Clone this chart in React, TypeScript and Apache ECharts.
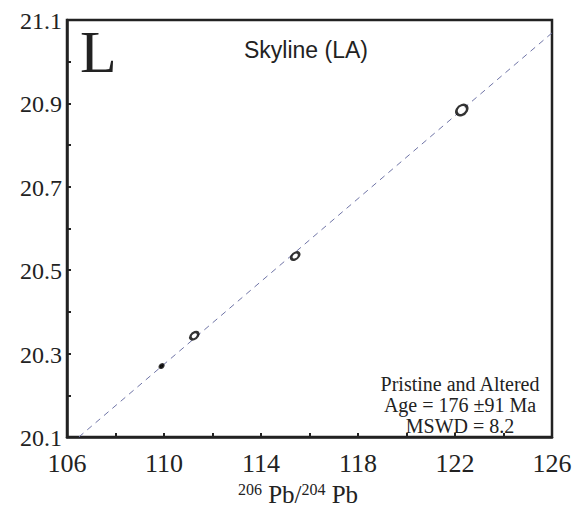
import React, { useEffect, useRef } from "react";
import * as echarts from "echarts";

// 206Pb/204Pb vs 207Pb/204Pb (ellipse centres)
const xValues = [109.9, 111.25, 115.41, 122.28];
const yValues = [20.27, 20.343, 20.534, 20.884];
// isochron reference line endpoints
const lineX = [106.49, 126];
const lineY = [20.1, 21.069];
const xTicks = [106, 110, 114, 118, 122, 126];
const yTicks = [20.1, 20.3, 20.5, 20.7, 20.9, 21.1];

// ellipse sizes [width, height] in px
const ellipseSizes: [number, number][] = [[4, 3], [9, 6], [9, 6], [12, 9]];

export default function App() {
  const ref = useRef<HTMLDivElement>(null);
  useEffect(() => {
    document.body.style.margin = "0";
    const chart = echarts.init(ref.current!, null, { renderer: "svg" });
    const serif = "Liberation Serif";
    const ink = "#222";
    chart.setOption({
      animation: false,
      backgroundColor: "#fff",
      grid: { left: 67, top: 20, right: 33, bottom: 77, show: true, borderColor: ink, borderWidth: 2.5 },
      xAxis: {
        type: "value",
        min: 106,
        max: 126,
        interval: 2,
        axisLine: { show: true, lineStyle: { color: ink, width: 2.5 } },
        axisTick: { show: true, inside: true, length: 4, lineStyle: { color: ink, width: 2 } },
        splitLine: { show: false },
        axisLabel: { show: false },
      },
      yAxis: {
        type: "value",
        min: 20.1,
        max: 21.1,
        interval: 0.1,
        axisLine: { show: true, lineStyle: { color: ink, width: 2.5 } },
        axisTick: { show: true, inside: true, length: 4, lineStyle: { color: ink, width: 2 } },
        splitLine: { show: false },
        axisLabel: { show: false },
      },
      series: [
        {
          type: "line",
          data: lineX.map((x, i) => [x, lineY[i]]),
          symbol: "none",
          lineStyle: { color: "#6f74a6", width: 1, type: [6, 5] },
          z: 1,
        },
        {
          type: "scatter",
          data: xValues.map((x, i) => ({
            value: [x, yValues[i]],
            symbolSize: ellipseSizes[i],
            itemStyle: i === 0 ? { color: "#000" } : undefined,
          })),
          symbol: "circle",
          symbolRotate: 40,
          itemStyle: { color: "#fff", borderColor: "#000", borderWidth: 2.5 },
          z: 3,
        },
      ],
    });

    const xLabelEls = xTicks.map((v) => {
      const [px, py] = chart.convertToPixel({ gridIndex: 0 }, [v, 20.1]) as number[];
      return {
        type: "text",
        x: px,
        y: py + 26,
        style: { text: String(v), font: `26px ${serif}`, fill: ink, align: "center", verticalAlign: "middle" },
      };
    });
    const yLabelEls = yTicks.map((v) => {
      const [px, py] = chart.convertToPixel({ gridIndex: 0 }, [106, v]) as number[];
      return {
        type: "text",
        x: px - 5,
        y: py + 1,
        style: { text: v.toFixed(1), font: `24px ${serif}`, fill: ink, align: "right", verticalAlign: "middle" },
      };
    });

    chart.setOption({
      graphic: [
        ...xLabelEls,
        ...yLabelEls,
        {
          type: "text",
          left: 80,
          top: 22,
          style: { text: "L", font: `60px ${serif}`, fill: ink },
        },
        {
          type: "text",
          x: 306,
          y: 50,
          style: { text: "Skyline (LA)", font: "23px Liberation Sans", fill: ink, align: "center", verticalAlign: "middle" },
        },
        {
          type: "text",
          x: 460,
          y: 384,
          style: { text: "Pristine and Altered", font: `20px ${serif}`, fill: ink, align: "center", verticalAlign: "middle" },
        },
        {
          type: "text",
          x: 460,
          y: 405,
          style: { text: "Age = 176 ±91 Ma", font: `20px ${serif}`, fill: ink, align: "center", verticalAlign: "middle" },
        },
        {
          type: "text",
          x: 460,
          y: 426,
          style: { text: "MSWD = 8.2", font: `20px ${serif}`, fill: ink, align: "center", verticalAlign: "middle" },
        },
        {
          type: "text",
          x: 298,
          y: 494,
          style: {
            text: "{s|206}{b| Pb/}{s|204}{b| Pb}",
            align: "center",
            verticalAlign: "middle",
            fill: ink,
            rich: {
              s: { fontFamily: serif, fontSize: 16, fill: ink, verticalAlign: "top", padding: [0, 0, 10, 0] },
              b: { fontFamily: serif, fontSize: 25, fill: ink },
            },
          },
        },
      ],
    });
    return () => chart.dispose();
  }, []);
  return <div ref={ref} style={{ width: 585, height: 514 }} />;
}
